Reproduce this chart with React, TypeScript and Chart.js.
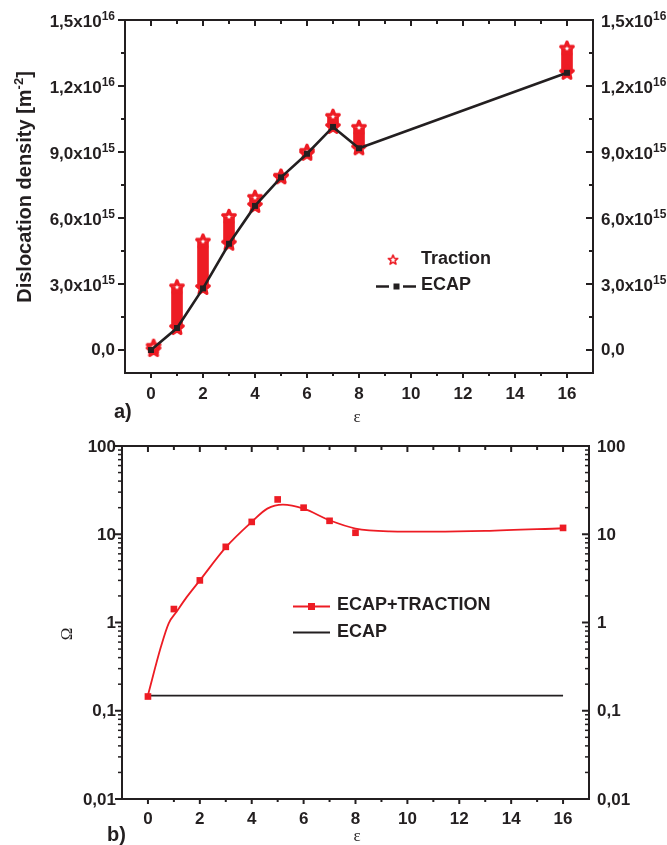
import React, { useEffect, useRef } from 'react';
import { Chart, registerables } from 'chart.js';

Chart.register(...registerables);

// ---- Panel a): dislocation density versus true strain ----
const strainEcap = [0, 1, 2, 3, 4, 5, 6, 7, 8, 16];
const densityEcap = [0.0, 1.0e15, 2.8e15, 4.83e15, 6.55e15, 7.85e15, 8.92e15, 10.14e15, 9.17e15, 12.6e15];

// Traction measurements: each strain level spans a column of star symbols
const strainTraction = [0.1, 1, 2, 3, 4, 5, 6, 7, 8, 16];
const tractionLow = [0.0, 1.0e15, 2.82e15, 4.83e15, 6.55e15, 7.85e15, 8.92e15, 10.14e15, 9.17e15, 12.6e15];
const tractionHigh = [0.15e15, 2.85e15, 4.93e15, 6.05e15, 6.92e15, 7.88e15, 9.01e15, 10.6e15, 10.1e15, 13.7e15];

const densityTickValues = [0, 3e15, 6e15, 9e15, 1.2e16, 1.5e16];
const densityMinorTicks = [1.5e15, 4.5e15, 7.5e15, 10.5e15, 13.5e15];
const densityTickMantissa = ['0,0', '3,0x10', '6,0x10', '9,0x10', '1,2x10', '1,5x10'];
const densityTickExponent = ['', '15', '15', '15', '16', '16'];

const strainTicks = [0, 2, 4, 6, 8, 10, 12, 14, 16];
const strainMinorTicks = [1, 3, 5, 7, 9, 11, 13, 15];

// ---- Panel b): Omega versus true strain (log scale) ----
const strainOmega = [0, 1, 2, 3, 4, 5, 6, 7, 8, 16];
const omegaTraction = [0.145, 1.42, 3.0, 7.2, 13.8, 24.8, 20.0, 14.2, 10.4, 11.8];
const fitStrain = [0, 0.5, 0.8, 1.1, 1.5, 2, 3, 4, 4.6, 5.2, 6, 7, 8, 9.3, 11, 13, 16];
const fitOmega = [0.15, 0.53, 0.98, 1.32, 1.95, 3.0, 7.1, 13.8, 19.5, 21.7, 19.5, 14.4, 11.6, 10.8, 10.7, 10.9, 11.7];
const ecapStrain = [0, 16];
const ecapOmega = [0.148, 0.148];

const omegaTickValues = [0.01, 0.1, 1, 10, 100];
const omegaTickLabels = ['0,01', '0,1', '1', '10', '100'];

const INK = '#231f20';
const RED = '#ed1c24';
const SANS = '"Liberation Sans", Arial, sans-serif';
const SERIF = '"Liberation Serif", "Times New Roman", serif';
const TICK_FONT = `bold 17px ${SANS}`;
const SUP_FONT = `bold 12px ${SANS}`;
const LEGEND_FONT = `bold 18px ${SANS}`;

function makeStar(fill: string, outer = 6.6, inner = 2.9, lw = 3.2) {
  const size = 18;
  const c = document.createElement('canvas');
  c.width = size;
  c.height = size;
  const g = c.getContext('2d')!;
  g.beginPath();
  for (let i = 0; i < 10; i++) {
    const r = i % 2 === 0 ? outer : inner;
    const ang = -Math.PI / 2 + (i * Math.PI) / 5;
    const px = size / 2 + r * Math.cos(ang);
    const py = size / 2 + r * Math.sin(ang);
    if (i === 0) g.moveTo(px, py);
    else g.lineTo(px, py);
  }
  g.closePath();
  g.fillStyle = fill;
  g.fill();
  g.lineWidth = lw;
  g.lineJoin = 'round';
  g.strokeStyle = RED;
  g.stroke();
  return c;
}

function put(
  ctx: CanvasRenderingContext2D,
  s: string,
  x: number,
  y: number,
  font: string,
  align: CanvasTextAlign = 'left',
  color = INK
) {
  ctx.font = font;
  ctx.fillStyle = color;
  ctx.textAlign = align;
  ctx.textBaseline = 'middle';
  ctx.fillText(s, x, y);
}

function supLabel(
  ctx: CanvasRenderingContext2D,
  main: string,
  sup: string,
  x: number,
  y: number,
  align: 'left' | 'right'
) {
  ctx.font = TICK_FONT;
  const wm = ctx.measureText(main).width;
  ctx.font = SUP_FONT;
  const ws = sup ? ctx.measureText(sup).width : 0;
  const start = align === 'right' ? x - wm - ws : x;
  put(ctx, main, start, y + (sup ? 2.5 : 0.5), TICK_FONT);
  if (sup) put(ctx, sup, start + wm, y - 3.5, SUP_FONT);
}

function line(ctx: CanvasRenderingContext2D, x1: number, y1: number, x2: number, y2: number) {
  ctx.beginPath();
  ctx.moveTo(x1, y1);
  ctx.lineTo(x2, y2);
  ctx.stroke();
}

function drawStrainAxis(chart: any, labelY: number) {
  const { ctx, chartArea: a, scales } = chart;
  const x = scales.x;
  ctx.strokeStyle = INK;
  ctx.lineWidth = 2;
  strainTicks.forEach((v) => {
    const px = x.getPixelForValue(v);
    line(ctx, px, a.bottom, px, a.bottom + 5);
    line(ctx, px, a.top, px, a.top + 6);
    put(ctx, String(v), px, labelY, TICK_FONT, 'center');
  });
  strainMinorTicks.forEach((v) => {
    const px = x.getPixelForValue(v);
    line(ctx, px, a.bottom, px, a.bottom + 3);
    line(ctx, px, a.top, px, a.top + 4);
  });
}

const densityAxes = {
  id: 'densityAxes',
  afterDraw(chart: any) {
    const { ctx, chartArea: a, scales } = chart;
    const y = scales.y;
    ctx.save();
    ctx.strokeStyle = INK;
    ctx.lineWidth = 2;
    ctx.strokeRect(a.left, a.top, a.right - a.left, a.bottom - a.top);
    drawStrainAxis(chart, 394);

    densityTickValues.forEach((v, i) => {
      const py = y.getPixelForValue(v);
      line(ctx, a.left - 7, py, a.left, py);
      line(ctx, a.right, py, a.right - 7, py);
      supLabel(ctx, densityTickMantissa[i], densityTickExponent[i], a.left - 10, py, 'right');
      supLabel(ctx, densityTickMantissa[i], densityTickExponent[i], a.right + 8, py, 'left');
    });
    densityMinorTicks.forEach((v) => {
      const py = y.getPixelForValue(v);
      line(ctx, a.left - 4, py, a.left, py);
      line(ctx, a.right, py, a.right - 4, py);
    });

    // vertical axis title
    ctx.save();
    ctx.translate(25, 187);
    ctx.rotate(-Math.PI / 2);
    const tf = `bold 20px ${SANS}`;
    const sf = `bold 13px ${SANS}`;
    ctx.font = tf;
    const p1 = 'Dislocation density [m';
    const w1 = ctx.measureText(p1).width;
    const w3 = ctx.measureText(']').width;
    ctx.font = sf;
    const w2 = ctx.measureText('-2').width;
    const sx = -(w1 + w2 + w3) / 2;
    put(ctx, p1, sx, 0, tf);
    put(ctx, '-2', sx + w1, -6, sf);
    put(ctx, ']', sx + w1 + w2, 0, tf);
    ctx.restore();

    put(ctx, '\u03b5', 357, 418, `17px ${SERIF}`, 'center');
    put(ctx, 'a)', 114, 412, `bold 20px ${SANS}`);

    // legend
    const star = chart.$starLegend as HTMLCanvasElement;
    ctx.drawImage(star, 393 - 7, 260 - 7, 14, 14);
    put(ctx, 'Traction', 421, 259, LEGEND_FONT);
    ctx.lineWidth = 2.5;
    line(ctx, 376, 286.5, 389, 286.5);
    line(ctx, 403, 286.5, 416, 286.5);
    ctx.fillStyle = INK;
    ctx.fillRect(393.5, 283.5, 6, 6);
    put(ctx, 'ECAP', 421, 285.5, LEGEND_FONT);
    ctx.restore();
  },
};

const omegaAxes = {
  id: 'omegaAxes',
  afterDraw(chart: any) {
    const { ctx, chartArea: a, scales } = chart;
    const y = scales.y;
    ctx.save();
    ctx.strokeStyle = INK;
    ctx.lineWidth = 2;
    ctx.strokeRect(a.left, a.top, a.right - a.left, a.bottom - a.top);
    drawStrainAxis(chart, 397);

    omegaTickValues.forEach((v, i) => {
      const py = y.getPixelForValue(v);
      line(ctx, a.left - 7, py, a.left, py);
      line(ctx, a.right, py, a.right - 7, py);
      put(ctx, omegaTickLabels[i], a.left - 6, py + 1, TICK_FONT, 'right');
      put(ctx, omegaTickLabels[i], a.right + 8, py + 1, TICK_FONT, 'left');
      if (i < omegaTickValues.length - 1) {
        for (let k = 2; k <= 9; k++) {
          const pm = y.getPixelForValue(v * k);
          ctx.lineWidth = 1.5;
          line(ctx, a.left - 4, pm, a.left, pm);
          line(ctx, a.right, pm, a.right - 4, pm);
          ctx.lineWidth = 2;
        }
      }
    });

    ctx.save();
    ctx.translate(68, 212);
    ctx.rotate(-Math.PI / 2);
    put(ctx, '\u03a9', 0, 0, `17px ${SERIF}`, 'center');
    ctx.restore();

    put(ctx, '\u03b5', 357, 415, `17px ${SERIF}`, 'center');
    put(ctx, 'b)', 107, 413, `bold 20px ${SANS}`);

    // legend
    ctx.strokeStyle = RED;
    ctx.lineWidth = 1.8;
    line(ctx, 293, 184.5, 330, 184.5);
    ctx.fillStyle = RED;
    ctx.fillRect(308, 181, 7, 7);
    put(ctx, 'ECAP+TRACTION', 337, 183.5, LEGEND_FONT);
    ctx.strokeStyle = INK;
    line(ctx, 293, 210.5, 330, 210.5);
    put(ctx, 'ECAP', 337, 210.5, LEGEND_FONT);
    ctx.restore();
  },
};

export default function App() {
  const topRef = useRef<HTMLCanvasElement>(null);
  const bottomRef = useRef<HTMLCanvasElement>(null);

  useEffect(() => {
    const starOpen = makeStar('#ffffff');
    const starSolid = makeStar(RED);
    const starLegend = makeStar('#ffffff', 6.4, 2.8, 2);

    const top = new Chart(topRef.current!, {
      type: 'line',
      data: {
        datasets: [
          {
            type: 'line',
            label: 'ECAP',
            data: strainEcap.map((x, i) => ({ x, y: densityEcap[i] })),
            borderColor: INK,
            borderWidth: 2.6,
            pointStyle: 'rect',
            pointRadius: 4.2,
            pointBackgroundColor: INK,
            pointBorderWidth: 0,
            tension: 0,
            order: 0,
          },
          {
            type: 'line',
            label: 'Traction',
            data: strainTraction.map((x, i) => ({ x, y: tractionHigh[i] })),
            showLine: false,
            pointStyle: starOpen,
            pointRadius: 6,
            order: 1,
          },
          {
            type: 'line',
            label: 'Traction (lowest)',
            data: strainTraction.map((x, i) => ({ x, y: tractionLow[i] })),
            showLine: false,
            pointStyle: starSolid,
            pointRadius: 6,
            order: 2,
          },
          {
            type: 'bar',
            label: 'Traction range',
            data: strainTraction.map((x, i) => ({ x, y: [tractionLow[i], tractionHigh[i]] })) as any,
            backgroundColor: RED,
            borderWidth: 0,
            barThickness: 11,
            order: 3,
          } as any,
        ],
      },
      options: {
        animation: false,
        responsive: false,
        events: [],
        layout: { padding: { left: 125, right: 74, top: 20, bottom: 49 } },
        plugins: { legend: { display: false }, tooltip: { enabled: false } },
        scales: {
          x: { type: 'linear', min: -1, max: 17, offset: false, display: false },
          y: { type: 'linear', min: -1.045e15, max: 1.5e16, display: false },
        },
      },
      plugins: [
        {
          id: 'starRef',
          beforeInit(chart: any) {
            chart.$starLegend = starLegend;
          },
        },
        densityAxes,
      ],
    } as any);

    const bottom = new Chart(bottomRef.current!, {
      type: 'line',
      data: {
        datasets: [
          {
            label: 'ECAP+TRACTION',
            data: strainOmega.map((x, i) => ({ x, y: omegaTraction[i] })),
            showLine: false,
            pointStyle: 'rect',
            pointRadius: 4.7,
            pointBackgroundColor: RED,
            pointBorderWidth: 0,
            order: 0,
          },
          {
            label: 'ECAP+TRACTION fit',
            data: fitStrain.map((x, i) => ({ x, y: fitOmega[i] })),
            borderColor: RED,
            borderWidth: 1.8,
            pointRadius: 0,
            cubicInterpolationMode: 'monotone',
            order: 1,
          },
          {
            label: 'ECAP',
            data: ecapStrain.map((x, i) => ({ x, y: ecapOmega[i] })),
            borderColor: INK,
            borderWidth: 1.8,
            pointRadius: 0,
            order: 2,
          },
        ],
      },
      options: {
        animation: false,
        responsive: false,
        events: [],
        layout: { padding: { left: 122, right: 78, top: 24, bottom: 46 } },
        plugins: { legend: { display: false }, tooltip: { enabled: false } },
        scales: {
          x: { type: 'linear', min: -1, max: 17, display: false },
          y: { type: 'logarithmic', min: 0.01, max: 100, display: false },
        },
      },
      plugins: [omegaAxes],
    } as any);

    return () => {
      top.destroy();
      bottom.destroy();
    };
  }, []);

  return (
    <div style={{ position: 'absolute', left: 0, top: 0, width: 667, height: 845, background: '#ffffff' }}>
      <canvas ref={topRef} width={667} height={422} style={{ position: 'absolute', left: 0, top: 0 }} />
      <canvas ref={bottomRef} width={667} height={423} style={{ position: 'absolute', left: 0, top: 422 }} />
    </div>
  );
}
